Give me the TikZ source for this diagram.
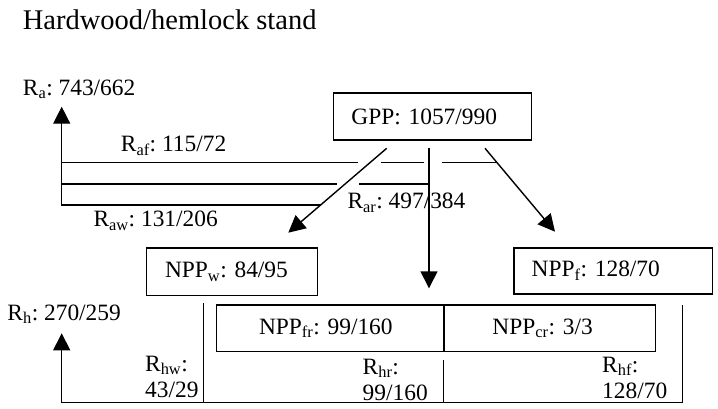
\documentclass[tikz,border=0pt]{standalone}
\usepackage{fontspec}
\setmainfont{Liberation Serif}
\usetikzlibrary{arrows.meta}
\newcommand\sbs[1]{\textsubscript{#1}}
\frenchspacing
\begin{document}
\begin{tikzpicture}[x=1pt,y=-1pt,
  lbl/.style={font=\fontsize{23.4}{26}\selectfont, inner sep=0pt, anchor=base west},
  lbltwo/.style={lbl, align=left},
  boxnode/.style={draw, line width=1.4pt, font=\fontsize{23.4}{26}\selectfont, anchor=north west, align=left, inner ysep=0pt},
  conn/.style={line width=1.4pt},
  arr/.style={conn, -{Triangle[length=17pt,width=17pt]}}]
\useasboundingbox (0,0) rectangle (718,408);

% title
\node[lbl, font=\fontsize{28.5}{32}\selectfont] (title) at (22.7,29.3) {Hardwood/hemlock stand};

% boxes
\node[boxnode, minimum height=47pt, inner xsep=18pt, text width=162.3pt] (gpp) at (332.7,92.3) {GPP: 1057/990};
\node[boxnode, minimum height=47.7pt, inner xsep=18.3pt, text width=134.1pt] (nppw) at (146,247.3) {NPP\sbs{w}: 84/95};
\node[boxnode, minimum height=46pt, inner xsep=17.7pt, text width=163pt] (nppf) at (513.3,247.3) {NPP\sbs{f}: 128/70};
\node[boxnode, minimum height=46.4pt, inner xsep=42.6pt, text width=142.4pt] (nppfr) at (215.7,304.3) {NPP\sbs{fr}: 99/160};
\node[boxnode, minimum height=46.4pt, inner xsep=48.4pt, text width=114.9pt] (nppcr) at (443.3,304.3) {NPP\sbs{cr}: 3/3};

% coordinates of connectors
\coordinate (gL) at (386.7,148.3);
\coordinate (gM) at (429,148.3);
\coordinate (gR) at (485,148.3);
\coordinate (wTip) at (288.3,232.7);
\coordinate (mTip) at (429,288.3);
\coordinate (fTip) at (555,231.7);
\coordinate (raTip) at (61.7,106.7);
\coordinate (raCorner) at (61.7,205);
\coordinate (awStart) at (320.6,205);

\draw[arr] (gL) -- (wTip);
\draw[arr] (gM) -- (mTip);
\draw[arr] (gR) -- (fTip);

% R_af line (with breaks at crossings)
\draw[conn] (497.1,162.7) -- (441.7,162.7);
\draw[conn] (424.3,162.7) -- (380.7,162.7);
\draw[conn] (358.3,162.7) -- (61.7,162.7);
% R_ar line
\draw[conn] (gM |- 0,184) -- (359.3,184);
\draw[conn] (336.7,184) -- (raCorner |- 0,184);
% R_aw line and arrow to R_a
\draw[arr] (awStart) -- (raCorner) -- (raTip);

% heterotrophic respiration
\coordinate (hwTop) at (203.3,303.3);
\coordinate (hwBot) at (203.3,402.7);
\coordinate (hrTop) at (443.3,360);
\coordinate (hrBot) at (443.3,402.7);
\coordinate (hfTop) at (682.7,305);
\coordinate (hfBot) at (682.7,402.7);
\coordinate (rhCorner) at (61.7,402.7);
\coordinate (rhTip) at (61.7,333.3);
\draw[conn] (hwTop) -- (hwBot);
\draw[conn] (hrTop) -- (hrBot);
\draw[arr] (hfTop) -- (hfBot) -- (rhCorner) -- (rhTip);

% labels
\node[lbl] (ra) at (22.7,95) {R\sbs{a}: 743/662};
\node[lbl] (raf) at (120.7,151.7) {R\sbs{af}: 115/72};
\node[lbl] (rar) at (347.3,208.3) {R\sbs{ar}: 497/384};
\node[lbl] (raw) at (93.3,226.7) {R\sbs{aw}: 131/206};
\node[lbl] (rh) at (7.3,320) {R\sbs{h}: 270/259};
\node[lbltwo] (rhw) at (145,397) {R\sbs{hw}:\\43/29};
\node[lbltwo] (rhr) at (362.5,400) {R\sbs{hr}:\\99/160};
\node[lbltwo] (rhf) at (602,398) {R\sbs{hf}:\\128/70};
\end{tikzpicture}
\end{document}
